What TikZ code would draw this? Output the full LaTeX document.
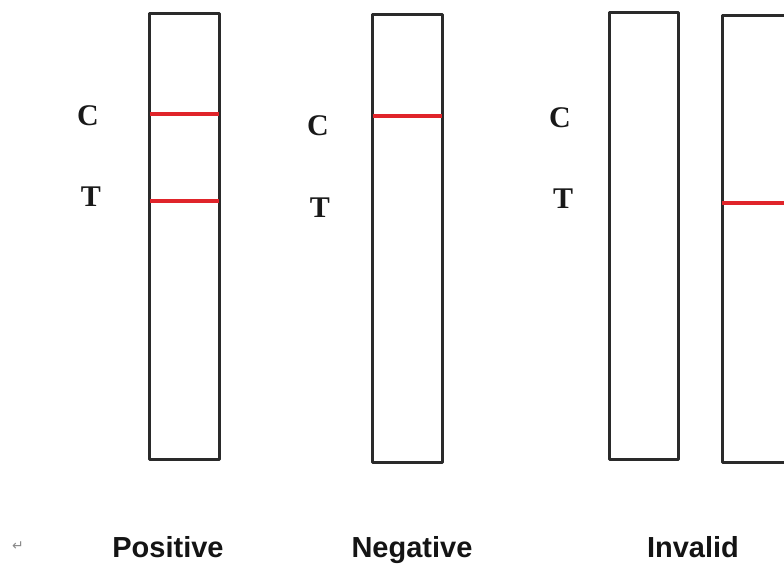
\documentclass[tikz,border=0pt]{standalone}
\usepackage{fontspec}
\setmainfont{Liberation Serif}
\newfontfamily\labelfont{Liberation Sans}
\newfontfamily\symfont{DejaVu Sans}
\definecolor{stripline}{HTML}{2A2A2A}
\definecolor{bandred}{HTML}{E0242A}
\definecolor{markgray}{HTML}{8A8A8A}
\begin{document}
\begin{tikzpicture}[x=1pt,y=-1pt,
  stripbox/.style={draw=stripline,line width=3pt,line join=round},
  band/.style={draw=bandred,line width=4pt},
  ctlabel/.style={font=\fontsize{30}{30}\selectfont\bfseries,inner sep=0pt,text=black!90},
  result/.style={font=\labelfont\fontsize{29}{29}\selectfont\bfseries,inner sep=0pt,anchor=base,text=black!92}]
\useasboundingbox (0,0) rectangle (784,565);
\clip (0,0) rectangle (784,565);
% strips
\draw[stripbox] (149.5,13) rectangle (219,459.5);
\draw[stripbox] (372.5,14.5) rectangle (442,462.5);
\draw[stripbox] (609.5,12.5) rectangle (678.5,459.5);
\draw[stripbox] (722,15) rectangle (800,462.5);
% bands
\coordinate (p1l) at (149.5,114); \coordinate (p1r) at (219,114);
\coordinate (p2l) at (149.5,200.5); \coordinate (p2r) at (219,200.5);
\coordinate (n1l) at (372.5,116); \coordinate (n1r) at (442,116);
\coordinate (i1l) at (722,203); \coordinate (i1r) at (786,203);
\draw[band] (p1l) -- (p1r);
\draw[band] (p2l) -- (p2r);
\draw[band] (n1l) -- (n1r);
\draw[band] (i1l) -- (i1r);
% C / T labels
\node[ctlabel] (c1) at (88,116) {C};
\node[ctlabel] (t1) at (91,197) {T};
\node[ctlabel] (c2) at (318,126) {C};
\node[ctlabel] (t2) at (320,208) {T};
\node[ctlabel] (c3) at (560,118) {C};
\node[ctlabel] (t3) at (563,199) {T};
% result labels
\node[result] (pos) at (168,557) {Positive};
\node[result] (neg) at (412,557) {Negative};
\node[result] (inv) at (693,557) {Invalid};
\node[font=\symfont\fontsize{14}{14}\selectfont,text=markgray,inner sep=0pt] (ret) at (18,546) {↵};
\end{tikzpicture}
\end{document}
